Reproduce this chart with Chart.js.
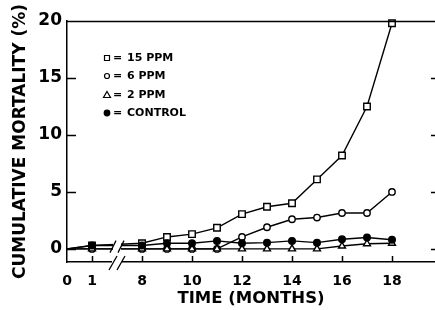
<!DOCTYPE html>
<html>
<head>
<meta charset="utf-8">
<script src="https://cdn.jsdelivr.net/npm/chart.js@4/dist/chart.umd.min.js"></script>
<style>
  html, body { margin: 0; padding: 0; background: #fff; overflow: hidden; }
  #wrap { width: 435px; height: 310px; }
</style>
</head>
<body>
<div id="wrap"><canvas id="c" width="435" height="310"></canvas></div>
<script>
// data (months, cumulative mortality %)
const months = [0, 1, 8, 9, 10, 11, 12, 13, 14, 15, 16, 17, 18];
const ppm15 = [0, 0.3, 0.5, 1.05, 1.3, 1.85, 3.05, 3.7, 4.0, 6.1, 8.2, 12.5, 19.8];
const ppm6 = [0, 0, 0, 0, 0, 0, 1.05, 1.9, 2.6, 2.75, 3.15, 3.15, 5.0];
const ppm2 = [0, 0, 0, 0, 0, 0, 0, 0, 0, 0, 0.25, 0.45, 0.5];
const control = [0, 0.3, 0.3, 0.5, 0.5, 0.7, 0.5, 0.55, 0.7, 0.55, 0.85, 1.0, 0.8];

const seriesNames = ["15 PPM", "6 PPM", "2 PPM", "CONTROL"];
const xTickMonths = [0, 1, 8, 10, 12, 14, 16, 18];
const yTickValues = [0, 5, 10, 15, 20];

const FONT = "'DejaVu Sans', sans-serif";

// broken time axis: months 2..7 are cut out
function axisPos(m) {
  return m <= 1 ? m : m - 5;
}
function monthOf(p) {
  return p <= 1 ? p : p + 5;
}

function pts(vals) {
  return vals.map((v, i) => ({ x: axisPos(months[i]), y: v }));
}

function ds(label, vals, style, radius, fill, order) {
  return {
    label: label,
    data: pts(vals),
    borderColor: '#000',
    borderWidth: 1.4,
    pointStyle: style,
    pointRadius: ctx => ctx.dataIndex === 0 ? 0 : radius,
    pointBorderWidth: 1.4,
    pointBorderColor: '#000',
    pointBackgroundColor: fill,
    tension: 0,
    clip: false,
    order: order
  };
}

/* ================================
   Decorations: inside ticks, top frame, axis break, legend
================================ */
const decor = {
  id: 'decor',
  afterDatasetsDraw(chart) {
    const c = chart.ctx;
    const a = chart.chartArea;
    const xs = chart.scales.x;
    const ys = chart.scales.y;
    c.save();
    c.strokeStyle = '#000';
    c.fillStyle = '#000';
    c.lineWidth = 1.5;

    // top frame line
    c.beginPath();
    c.moveTo(a.left, a.top + 0.5);
    c.lineTo(a.right, a.top + 0.5);
    c.stroke();

    // x ticks pointing up
    xTickMonths.forEach(m => {
      if (m === 0) return;
      const px = Math.round(xs.getPixelForValue(axisPos(m))) + 0.5;
      c.beginPath();
      c.moveTo(px, a.bottom);
      c.lineTo(px, a.bottom - 6);
      c.stroke();
    });

    // y ticks pointing right, and small ones on the right edge
    yTickValues.forEach(v => {
      const py = Math.round(ys.getPixelForValue(v)) + 0.5;
      if (v !== 20) {
        c.beginPath();
        c.moveTo(a.left, py);
        c.lineTo(a.left + 9, py);
        c.stroke();
        c.beginPath();
        c.moveTo(a.right - 4, py);
        c.lineTo(a.right, py);
        c.stroke();
      }
    });

    // axis break between month 1 and month 8
    const bx = xs.getPixelForValue(2);
    const by = ys.getPixelForValue(0.2);
    c.fillStyle = '#fff';
    c.fillRect(bx - 4, by - 8, 8, 14);
    c.fillRect(bx - 5, a.bottom - 2, 10, 5);
    c.lineWidth = 1.3;
    [-4, 4].forEach(dx => {
      c.beginPath();
      c.moveTo(bx + dx - 3, by + 6);
      c.lineTo(bx + dx + 3, by - 6);
      c.stroke();
      c.beginPath();
      c.moveTo(bx + dx - 4, a.bottom + 8);
      c.lineTo(bx + dx + 4, a.bottom - 6);
      c.stroke();
    });

    // legend
    const lx = 107;
    const rows = [58, 76, 95, 113];
    c.lineWidth = 1.2;
    c.font = "bold 11px " + FONT;
    c.textBaseline = 'middle';
    rows.forEach((ry, i) => {
      c.fillStyle = '#fff';
      c.beginPath();
      if (i === 0) {
        c.rect(lx - 2.5, ry - 2.5, 5, 5);
      } else if (i === 1) {
        c.arc(lx, ry, 2.5, 0, Math.PI * 2);
      } else if (i === 2) {
        c.moveTo(lx, ry - 3.5);
        c.lineTo(lx + 3.5, ry + 2.5);
        c.lineTo(lx - 3.5, ry + 2.5);
        c.closePath();
      } else {
        c.arc(lx, ry, 2.8, 0, Math.PI * 2);
        c.fillStyle = '#000';
      }
      c.fill();
      c.stroke();
      c.fillStyle = '#000';
      c.fillText('=', 113, ry);
      c.fillText(seriesNames[i], 127, ry + 0.5);
    });
    c.restore();
  }
};

new Chart(document.getElementById('c'), {
  type: 'line',
  data: {
    datasets: [
      ds(seriesNames[0], ppm15, 'rect', 4.6, '#fff', 4),
      ds(seriesNames[1], ppm6, 'circle', 3.2, '#fff', 3),
      ds(seriesNames[2], ppm2, 'triangle', 4, '#fff', 2),
      ds(seriesNames[3], control, 'circle', 3.3, '#000', 1)
    ]
  },
  options: {
    responsive: false,
    animation: false,
    layout: { autoPadding: false, padding: { top: 21, right: 0, left: 0, bottom: 0 } },
    plugins: { legend: { display: false }, tooltip: { enabled: false } },
    scales: {
      x: {
        type: 'linear',
        min: 0,
        max: 14.72,
        afterBuildTicks: s => { s.ticks = xTickMonths.map(m => ({ value: axisPos(m) })); },
        afterFit: s => { s.height = 48; s.paddingLeft = 0; s.paddingRight = 0; },
        grid: { display: false, drawTicks: false },
        border: { display: true, color: '#000', width: 1.5 },
        ticks: {
          color: '#000',
          padding: 11,
          maxRotation: 0,
          autoSkip: false,
          font: { family: FONT, size: 14, weight: 'bold' },
          callback: v => String(monthOf(v))
        },
        title: {
          display: true,
          text: 'TIME (MONTHS)',
          color: '#000',
          padding: { top: 0, bottom: 1 },
          font: { family: FONT, size: 16.5, weight: 'bold' }
        }
      },
      y: {
        min: -1.15,
        max: 20,
        afterBuildTicks: s => { s.ticks = yTickValues.map(v => ({ value: v })); },
        afterFit: s => { s.width = 67; s.paddingTop = 0; s.paddingBottom = 0; },
        grid: { display: false, drawTicks: false },
        border: { display: true, color: '#000', width: 1.5 },
        ticks: {
          color: '#000',
          padding: 5,
          font: { family: FONT, size: 17, weight: 'bold' }
        },
        title: {
          display: true,
          text: 'CUMULATIVE MORTALITY (%)',
          color: '#000',
          padding: { top: 10, bottom: 0 },
          font: { family: FONT, size: 17, weight: 'bold' }
        }
      }
    }
  },
  plugins: [decor]
});
</script>
</body>
</html>
